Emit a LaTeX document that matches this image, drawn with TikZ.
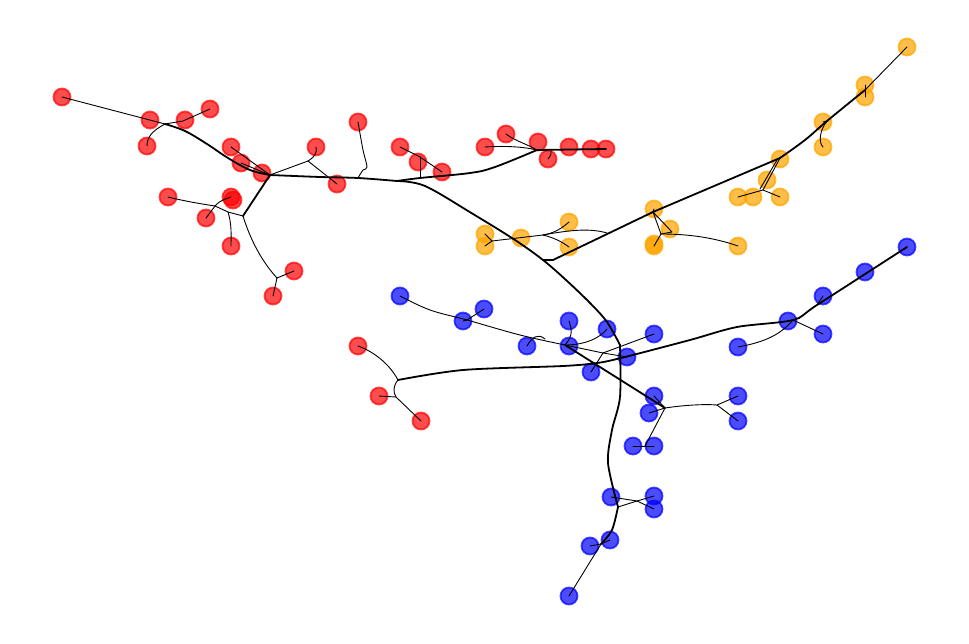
\documentclass[tikz,border=0pt]{standalone}
\definecolor{cO}{RGB}{255,165,0}
\begin{document}
\begin{tikzpicture}[x=1pt,y=-1pt,
  leaf/.style={circle,inner sep=0pt,minimum size=17pt,line width=1.8pt},
  rl/.style={leaf,fill=red,draw=red,fill opacity=0.7,draw opacity=0.7},
  ol/.style={leaf,fill=cO,draw=cO,fill opacity=0.72,draw opacity=0.72},
  bl/.style={leaf,fill=blue,draw=blue,fill opacity=0.7,draw opacity=0.7},
  thn/.style={line width=0.9pt,line cap=round,line join=round},
  thk/.style={line width=1.8pt,line cap=round,line join=round}]
\useasboundingbox (0,0) rectangle (969,644);
% red leaves
\node[rl] (r1) at (62,97) {};
\node[rl] (r2) at (150,120) {};
\node[rl] (r3) at (185,120) {};
\node[rl] (r4) at (210,109) {};
\node[rl] (r5) at (147,146) {};
\node[rl] (r6) at (231,147) {};
\node[rl] (r7) at (241,163) {};
\node[rl] (r8) at (262,173) {};
\node[rl] (r9) at (316,147) {};
\node[rl] (r10) at (337,184) {};
\node[rl] (r11) at (358,122) {};
\node[rl] (r12) at (400,147) {};
\node[rl] (r13) at (418,162) {};
\node[rl] (r14) at (442,172) {};
\node[rl] (r15) at (485,147) {};
\node[rl] (r16) at (506,134) {};
\node[rl] (r17) at (538,142) {};
\node[rl] (r18) at (548,159) {};
\node[rl] (r19) at (569,147) {};
\node[rl] (r20) at (591,149) {};
\node[rl] (r21) at (606,149) {};
\node[rl] (r22) at (168,197) {};
\node[rl] (r23) at (231,197) {};
\node[rl] (r23b) at (233,200) {};
\node[rl] (r24) at (206,218) {};
\node[rl] (r25) at (231,246) {};
\node[rl] (r26) at (294,271) {};
\node[rl] (r27) at (273,296) {};
\node[rl] (r28) at (358,346) {};
\node[rl] (r29) at (379,396) {};
\node[rl] (r30) at (421,421) {};
% orange leaves
\node[ol] (o1) at (907,47) {};
\node[ol] (o2) at (865,85) {};
\node[ol] (o3) at (865,97) {};
\node[ol] (o4) at (823,122) {};
\node[ol] (o5) at (823,147) {};
\node[ol] (o6) at (780,159) {};
\node[ol] (o7) at (767,180) {};
\node[ol] (o8) at (738,197) {};
\node[ol] (o9) at (753,197) {};
\node[ol] (o10) at (780,197) {};
\node[ol] (o11) at (654,209) {};
\node[ol] (o12) at (670,229) {};
\node[ol] (o13) at (654,246) {};
\node[ol] (o13b) at (654,244) {};
\node[ol] (o14) at (738,246) {};
\node[ol] (o15) at (569,222) {};
\node[ol] (o16) at (569,247) {};
\node[ol] (o17) at (521,238) {};
\node[ol] (o18) at (485,234) {};
\node[ol] (o19) at (485,246) {};
% blue leaves
\node[bl] (b1) at (907,247) {};
\node[bl] (b2) at (865,272) {};
\node[bl] (b3) at (823,296) {};
\node[bl] (b4) at (788,321) {};
\node[bl] (b5) at (823,334) {};
\node[bl] (b6) at (738,347) {};
\node[bl] (b7) at (400,296) {};
\node[bl] (b8) at (484,309) {};
\node[bl] (b9) at (463,321) {};
\node[bl] (b10) at (527,346) {};
\node[bl] (b11) at (569,321) {};
\node[bl] (b12) at (607,329) {};
\node[bl] (b13) at (654,334) {};
\node[bl] (b14) at (569,346) {};
\node[bl] (b15) at (627,357) {};
\node[bl] (b16) at (591,372) {};
\node[bl] (b17) at (654,396) {};
\node[bl] (b18) at (649,413) {};
\node[bl] (b19) at (738,396) {};
\node[bl] (b20) at (738,421) {};
\node[bl] (b21) at (633,446) {};
\node[bl] (b22) at (654,446) {};
\node[bl] (b23) at (611,497) {};
\node[bl] (b24) at (654,496) {};
\node[bl] (b25) at (654,509) {};
\node[bl] (b26) at (610,540) {};
\node[bl] (b27) at (590,546) {};
\node[bl] (b28) at (569,596) {};
% hubs
\coordinate (hA) at (270,175);
\coordinate (hC) at (165,124);
\coordinate (hC2) at (183,121);
\coordinate (hD) at (308,161);
\coordinate (hB) at (243,216);
\coordinate (hE) at (277,278);
\coordinate (hF) at (228,212);
\coordinate (hG) at (215,206);
\coordinate (hT1) at (358,178);
\coordinate (hT2) at (397,181);
\coordinate (hT3) at (420,178);
\coordinate (hT4) at (420,157);
\coordinate (hR) at (537,150);
\coordinate (hO) at (543,260);
\coordinate (hO2) at (553,260);
\coordinate (hO3) at (653,212);
\coordinate (hO4) at (780,158);
\coordinate (hO5) at (827,121);
\coordinate (hO6) at (865,90);
\coordinate (hO7) at (763,190);
\coordinate (hO8) at (661,234);
\coordinate (hO8b) at (672,232);
\coordinate (hO9) at (607,233);
\coordinate (hO10) at (543,235);
\coordinate (hO11) at (492,241);
\coordinate (hM) at (620,345);
\coordinate (hM2) at (621,358);
\coordinate (hBL) at (398,380);
\coordinate (hBL2) at (396,397);
\coordinate (hBR) at (793,320);
\coordinate (hBR2) at (817,305);
\coordinate (hY) at (565,345);
\coordinate (hZ) at (467,320);
\coordinate (hW) at (603,353);
\coordinate (hX) at (665,408);
\coordinate (hX2) at (717,405);
\coordinate (hX3) at (645,446);
\coordinate (hB1) at (618,507);
\coordinate (hB2) at (637,501);
\coordinate (hB3) at (601,544);
% ---- red upper-left
\draw[thn] (r1.center) -- (hC);
\draw[thn] (hC) -- (hC2) -- (r4.center);
\draw[thn] (hC) .. controls (152,131) and (147,137) .. (r5.center);
\draw[thk] plot[smooth,tension=0.6] coordinates {(hC) (185,131) (207,144) (228,158) (250,170) (hA)};
\draw[thn] (r6.center) -- (hA);
\draw[thn] (r7.center) -- (hA);
\draw[thn] (r8.center) -- (hA);
\draw[thn] (hA) -- (hD);
\draw[thn] (hD) .. controls (316,156) and (317,152) .. (r9.center);
\draw[thn] (hD) -- (r10.center);
\draw[thk] (hA) -- (hB);
\draw[thn] (hB) .. controls (252,245) and (265,265) .. (hE);
\draw[thn] (hE) -- (r26.center);
\draw[thn] (hE) -- (r27.center);
\draw[thn] (hB) -- (hF) -- (hG);
\draw[thn] (hF) .. controls (232,225) and (231,235) .. (r25.center);
\draw[thn] (hG) .. controls (195,203) and (180,200) .. (r22.center);
\draw[thn] (hG) -- (r24.center);
\draw[thn] (hG) .. controls (220,200) and (226,199) .. (r23.center);
% ---- main trunk
\draw[thk] plot[smooth,tension=0.5] coordinates {(hA) (320,177) (hT1) (hT2)};
\draw[thn] plot[smooth,tension=0.6] coordinates {(hT1) (363,170) (367,167) (363,150) (r11.center)};
\draw[thk] plot[smooth,tension=0.6] coordinates {(hT2) (hT3) (470,173) (495,167) (hR)};
\draw[thn] (hT3) -- (hT4);
\draw[thn] (r12.center) -- (hT4) -- (r14.center);
\draw[thk] (hR) -- (r21.center);
\draw[thn] (hR) .. controls (520,146) and (500,146) .. (r15.center);
\draw[thn] (r16.center) .. controls (515,141) and (527,144) .. (hR);
\draw[thn] (551,151) .. controls (551,155) .. (r18.center);
\draw[thk] plot[smooth,tension=0.55] coordinates {(hT2) (425,186) (473,214) (515,240) (hO) (566,280) (590,303) (607,322) (hM)};
% ---- orange
\draw[thk] (hO) -- (hO2) -- (hO3) -- (hO4);
\draw[thk] plot[smooth,tension=0.6] coordinates {(hO4) (805,140) (hO5) (hO6)};
\draw[thn] (hO6) -- (o1.center);
\draw[thn] (o2.center) -- (o3.center);
\draw[thn] (hO5) -- (o4.center);
\draw[thn] (hO5) .. controls (820,130) and (818,142) .. (o5.center);
\draw[thn] (hO4) -- (hO7);
\draw[thn] (777,160) -- (760,189);
\draw[thn] (o8.center) -- (hO7) -- (o10.center);
\draw[thn] (hO3) -- (o11.center);
\draw[thn] (hO3) -- (hO8) -- (hO8b) -- (hO3);
\draw[thn] (hO8) -- (o13.center);
\draw[thn] (hO8) .. controls (690,234) and (715,238) .. (o14.center);
\draw[thn] (hO9) .. controls (590,228) and (570,230) .. (hO10);
\draw[thn] (hO10) -- (hO11);
\draw[thn] (hO10) .. controls (555,233) and (562,228) .. (o15.center);
\draw[thn] (hO10) .. controls (555,238) and (562,242) .. (o16.center);
\draw[thn] (hO11) -- (o18.center);
\draw[thn] (hO11) -- (o19.center);
% ---- blue and lower red
\draw[thk] plot[smooth,tension=0.5] coordinates {(hM) (620,397) (612,430) (608,463) (hB1)};
\draw[thn] (hB1) -- (hB2);
\draw[thn] (b23.center) -- (hB2);
\draw[thn] (hB2) -- (b24.center);
\draw[thn] (hB2) -- (b25.center);
\draw[thk] plot[smooth,tension=0.5] coordinates {(hB1) (612,530) (hB3)};
\draw[thn] (hB3) -- (b26.center);
\draw[thn] (hB3) -- (b27.center);
\draw[thn] (hB3) -- (b28.center);
\draw[thn] (hBL) .. controls (390,365) and (375,352) .. (r28.center);
\draw[thn] (hBL) .. controls (393,386) and (393,392) .. (hBL2);
\draw[thn] (hBL2) -- (r29.center);
\draw[thn] (hBL2) -- (r30.center);
\draw[thk] plot[smooth,tension=0.5] coordinates {(hBL) (463,370) (563,366) (597,363) (hM2) (690,340) (737,327) (hBR) (hBR2) (b1.center)};
\draw[thn] (b3.center) -- (hBR2);
\draw[thn] (b6.center) .. controls (765,342) and (780,335) .. (hBR);
\draw[thn] (hBR) -- (b5.center);
% middle blue
\draw[thn] plot[smooth,tension=0.6] coordinates {(b7.center) (430,310) (hZ) (520,335) (hY)};
\draw[thn] (hZ) -- (b8.center);
\draw[thn] (hZ) -- (b9.center);
\draw[thn] (b10.center) .. controls (532,337) and (538,333) .. (545,339);
\draw[thn] (b11.center) .. controls (572,330) and (573,336) .. (hY);
\draw[thn] (hY) .. controls (585,345) and (600,338) .. (b12.center);
\draw[thk] (hY) -- (hX);
\draw[thn] (hY) -- (hW) -- (b15.center);
\draw[thn] (hW) -- (b13.center);
\draw[thn] (hW) -- (b16.center);
\draw[thn] (hX) -- (b17.center);
\draw[thn] (hX) -- (b18.center);
\draw[thn] (hX) .. controls (685,405) and (705,404) .. (hX2);
\draw[thn] (hX2) -- (b19.center);
\draw[thn] (hX2) -- (b20.center);
\draw[thn] (hX) -- (hX3);
\draw[thn] (b21.center) -- (b22.center);
\end{tikzpicture}
\end{document}
